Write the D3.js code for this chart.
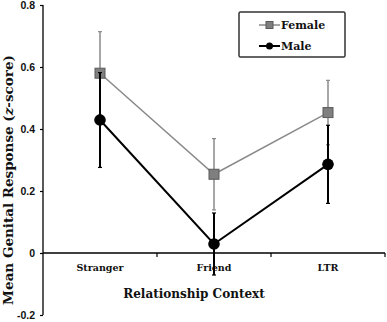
<!DOCTYPE html>
<html><head><meta charset="utf-8">
<script src="https://cdn.jsdelivr.net/npm/d3@7"></script>
<style>body{margin:0;background:#fff}</style>
</head><body>
<svg id="c" width="387" height="322"></svg>
<script>
const categories = ["Stranger", "Friend", "LTR"];
const femaleMean = [0.58, 0.254, 0.453];
const femaleErr = [0.134, 0.115, 0.104];
const maleMean = [0.429, 0.029, 0.286];
const maleErr = [0.153, 0.10, 0.126];
const yTicks = [-0.2, 0, 0.2, 0.4, 0.6, 0.8];
const yTickLabels = ["-0.2", "0", "0.2", "0.4", "0.6", "0.8"];
const seriesNames = ["Female", "Male"];

const svg = d3.select("#c");
const x = d3.scaleBand().domain(categories).range([43, 385]);
const y = d3.scaleLinear().domain([-0.2, 0.8]).range([315, 5]);
const serif = "'DejaVu Serif', serif";

// y axis
const yAxis = d3.axisLeft(y).tickValues(yTicks).tickSize(3).tickFormat((d,i)=>yTickLabels[i]);
const gy = svg.append("g").attr("transform","translate(43,0)").call(yAxis);
gy.select(".domain").attr("stroke","#000").attr("stroke-width",1.3).attr("d","M0,"+y(0.8)+"V"+y(-0.2));
gy.selectAll(".tick line").attr("stroke","#000").attr("stroke-width",1.2);
gy.selectAll(".tick text").attr("x",-8).attr("dy","0.35em")
  .style("font-family","'Liberation Sans', Arial, sans-serif").style("font-weight","bold").style("font-size","10.5px").attr("fill","#111");

// x axis at zero
const gx = svg.append("g").attr("transform","translate(0,"+y(0)+")");
gx.append("line").attr("x1",43).attr("x2",385).attr("stroke","#000").attr("stroke-width",1.3);
gx.selectAll("line.tk").data(categories).enter().append("line").attr("class","tk")
  .attr("x1",d=>x(d)+x.bandwidth()).attr("x2",d=>x(d)+x.bandwidth()).attr("y1",0).attr("y2",4)
  .attr("stroke","#000").attr("stroke-width",1.2);
gx.selectAll("text").data(categories).enter().append("text")
  .attr("x",d=>x(d)+x.bandwidth()/2).attr("y",18).attr("text-anchor","middle")
  .style("font-family",serif).style("font-weight","bold").style("font-size","9.5px").attr("fill","#111").text(d=>d);

// titles
svg.append("text").attr("x",194).attr("y",298).attr("text-anchor","middle")
  .style("font-family",serif).style("font-weight","bold").style("font-size","12px").attr("fill","#111")
  .text("Relationship Context");
const yt = svg.append("text").attr("transform","translate(13,180) rotate(-90)").attr("text-anchor","middle")
  .style("font-family",serif).style("font-weight","bold").style("font-size","13.5px").attr("fill","#111");
yt.append("tspan").text("Mean Genital Response (");
yt.append("tspan").style("font-style","italic").text("z");
yt.append("tspan").text("-score)");

const cx = d => x(d) + x.bandwidth()/2;
function drawSeries(mean, err, color, lw, shape) {
  const g = svg.append("g");
  categories.forEach((c,i)=>{
    const X = cx(c);
    g.append("line").attr("x1",X).attr("x2",X).attr("y1",y(mean[i]+err[i])).attr("y2",y(mean[i]-err[i]))
      .attr("stroke",color).attr("stroke-width",lw);
    [mean[i]+err[i], mean[i]-err[i]].forEach(v=>{
      g.append("line").attr("x1",X-2).attr("x2",X+2).attr("y1",y(v)).attr("y2",y(v))
        .attr("stroke",color).attr("stroke-width",1.2);
    });
  });
  const line = d3.line().x((d,i)=>cx(categories[i])).y(d=>y(d));
  g.append("path").attr("d",line(mean)).attr("fill","none").attr("stroke",color).attr("stroke-width",lw);
  categories.forEach((c,i)=>{
    if (shape==="sq") g.append("rect").attr("x",cx(c)-5).attr("y",y(mean[i])-5).attr("width",10).attr("height",10)
      .attr("fill","#7f7f7f").attr("stroke","#5a5a5a").attr("stroke-width",1);
    else g.append("circle").attr("cx",cx(c)).attr("cy",y(mean[i])).attr("r",5.8).attr("fill","#000");
  });
}
drawSeries(femaleMean, femaleErr, "#8a8a8a", 1.5, "sq");
drawSeries(maleMean, maleErr, "#000", 2, "ci");

// legend
const lg = svg.append("g");
lg.append("rect").attr("x",239).attr("y",12).attr("width",106).attr("height",45).attr("rx",1.5)
  .attr("fill","#fff").attr("stroke","#333").attr("stroke-width",1.5);
[0,1].forEach(i=>{
  const ly = 25 + i*21;
  lg.append("line").attr("x1",259).attr("x2",280).attr("y1",ly).attr("y2",ly)
    .attr("stroke", i===0?"#8a8a8a":"#000").attr("stroke-width", i===0?1.5:2);
  if (i===0) lg.append("rect").attr("x",266).attr("y",ly-3.5).attr("width",7).attr("height",7)
    .attr("fill","#7f7f7f").attr("stroke","#5a5a5a");
  else lg.append("circle").attr("cx",269.5).attr("cy",ly).attr("r",3.5).attr("fill","#000");
  lg.append("text").attr("x",281).attr("y",ly).attr("dy","0.35em")
    .style("font-family",serif).style("font-weight","bold").style("font-size","11px").attr("fill","#111")
    .text(seriesNames[i]);
});
</script>
</body></html>
